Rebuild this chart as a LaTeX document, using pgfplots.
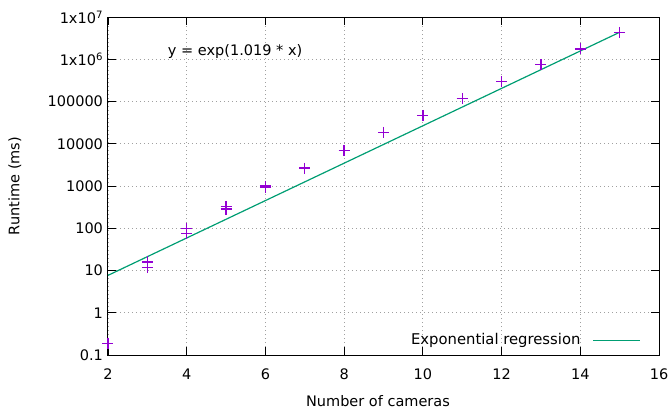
\documentclass[border=0pt]{standalone}
\usepackage{fontspec}
\setmainfont{DejaVu Sans}
\usepackage{pgfplots}
\pgfplotsset{compat=1.18}

\definecolor{ptcolor}{HTML}{9400D3}
\definecolor{fitcolor}{HTML}{009E73}
\definecolor{gridgray}{HTML}{A0A0A0}

\begin{document}
\fontsize{14.5bp}{17bp}\selectfont
\begin{tikzpicture}
\begin{axis}[
  scale only axis,
  width=551bp, height=338bp,
  xmin=2, xmax=16,
  ymode=log, ymin=0.1, ymax=1e7,
  log basis y=10,
  xtick={2,4,...,16},
  ytick={0.1,1,10,100,1000,10000,100000,1000000,10000000},
  yticklabels={0.1,1,10,100,1000,10000,100000,1x10\textsuperscript{6},1x10\textsuperscript{7}},
  /pgf/number format/assume math mode=true,
  tick label style={font=\fontsize{14.5bp}{17bp}\selectfont},
  xticklabel style={yshift=-9bp},
  label style={font=\fontsize{14.5bp}{17bp}\selectfont},
  tick align=inside,
  major tick length=8bp,
  minor tick length=4.5bp,
  axis line style={line width=1bp},
  every tick/.style={black, line width=0.8bp},
  grid=major,
  major grid style={gridgray, line width=0.8bp, dash pattern=on 1bp off 3bp},
  xlabel={Number of cameras},
  ylabel={Runtime (ms)},
  xlabel style={at={(axis description cs:0.49,-0.135)}, anchor=center},
  ylabel style={at={(axis description cs:-0.169,0.5)}, anchor=center},
  legend style={at={(axis description cs:0.967,0.044)}, anchor=east,
    draw=none, fill=none, inner sep=0pt,
    font=\fontsize{14.8bp}{17bp}\selectfont},
  legend cell align=right,
  legend plot pos=right,
  legend image code/.code={%
    \path (0bp,0bp);
    \draw[fitcolor, line width=1.2bp] (10bp,0bp) -- (57bp,0bp);},
  clip=false,
]
% measured runtimes (several runs per camera count)
\addplot[only marks, mark=+, mark size=5.5bp, draw=ptcolor, line width=1.3bp,
  mark options={draw=ptcolor, fill=ptcolor}, forget plot]
  coordinates {
    (2,0.19)
    (3,16) (3,12)
    (4,98) (4,76)
    (5,330) (5,285)
    (6,1000) (6,930)
    (7,2650)
    (8,7000)
    (9,18500)
    (10,47000)
    (11,118000)
    (12,295000)
    (13,740000)
    (14,1750000)
    (15,4300000)
  };
% fitted model y = exp(1.019 x), a straight line on the log axis
\addplot[fitcolor, line width=1.2bp] coordinates {(2,7.67) (15,4350000)};
\addlegendentry{Exponential regression}
\node at (axis cs:5.23,1.5e6) {y = exp(1.019 * x)};
\end{axis}
\pgfresetboundingbox
\path[use as bounding box] (-108bp,-57bp) rectangle (563bp,355bp);
\end{tikzpicture}
\end{document}
